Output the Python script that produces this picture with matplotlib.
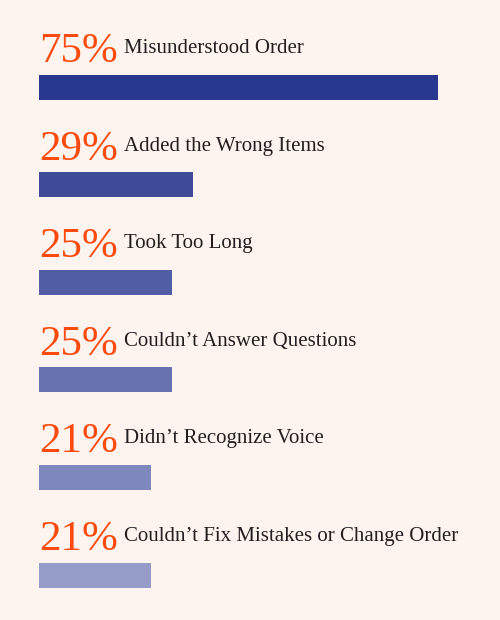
import matplotlib
matplotlib.use("Agg")
import matplotlib.pyplot as plt

categories = ["Misunderstood Order", "Added the Wrong Items", "Took Too Long",
              "Couldn\u2019t Answer Questions", "Didn\u2019t Recognize Voice",
              "Couldn\u2019t Fix Mistakes or Change Order"]
values = [75, 29, 25, 25, 21, 21]
pct_labels = ["75%", "29%", "25%", "25%", "21%", "21%"]
colors = ["#28388f", "#3f4b97", "#525ea3", "#6772b0", "#7e88bd", "#959cc8"]

BG = "#fef4ef"
W, H = 500, 620
fig = plt.figure(figsize=(W / 100, H / 100), dpi=100, facecolor=BG)

left_px, right_px = 39, 438
ax = fig.add_axes([left_px / W, 0, (right_px - left_px) / W, 1])
ax.set_facecolor(BG)
ax.set_xlim(0, 75)
first_c, step = 87, 97.6
ax.set_ylim((H - first_c) / step, -first_c / step)
ax.axis("off")

ys = list(range(len(values)))
ax.barh(ys, values, height=25 / step, color=colors, align="center")

u = 75 / (right_px - left_px)  # data units per px (x)
for i, (p, lab) in enumerate(zip(pct_labels, categories)):
    ax.text(0, i - 25 / step, p, fontsize=31, family="Liberation Serif",
            color="#fb4a0e", ha="left", va="baseline", clip_on=False)
    ax.text((124 - left_px) * u, i - 34 / step, lab, fontsize=15,
            family="Liberation Serif", color="#231f20", ha="left",
            va="baseline", clip_on=False)

fig.savefig("out.png", dpi=100, facecolor=BG)
